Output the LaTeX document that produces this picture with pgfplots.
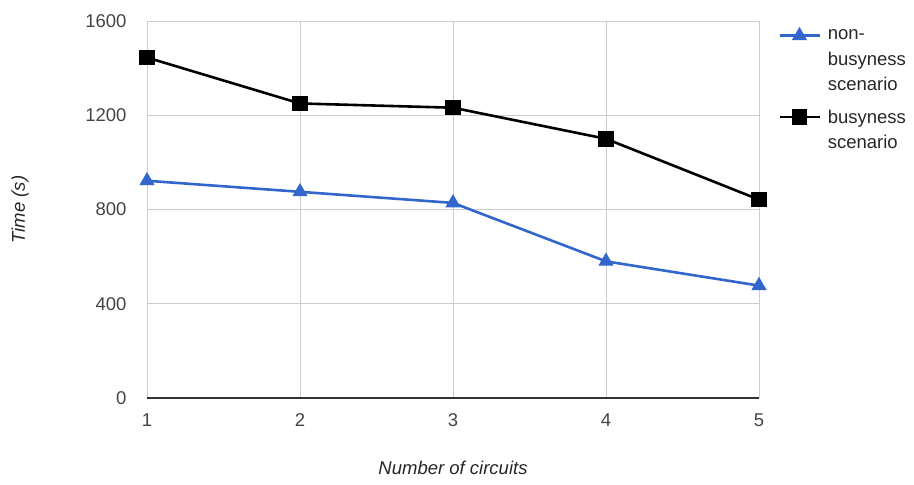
\documentclass[border=0pt]{standalone}
\usepackage{fontspec}
\setmainfont{Liberation Sans}
\usepackage{pgfplots}
\pgfplotsset{compat=1.18}
\definecolor{seriesblue}{HTML}{3366CC}
\definecolor{gridgray}{HTML}{CCCCCC}
\definecolor{labelgray}{HTML}{444444}
\definecolor{axisgray}{HTML}{333333}

\begin{document}
\begin{tikzpicture}[font=\fontsize{18.5}{25.5}\selectfont]
\begin{axis}[
  scale only axis, width=612pt, height=377pt,
  xmin=1, xmax=5, ymin=0, ymax=1600,
  xtick={1,2,3,4,5}, ytick={0,400,800,1200,1600},
  grid=major, major grid style={gridgray, line width=0.8pt},
  axis line style={draw=none},
  major tick length=0pt,
  /pgf/number format/assume math mode=true,
  /pgf/number format/1000 sep={},
  tick label style={text=labelgray},
  yticklabel style={xshift=-17pt},
  xticklabel style={yshift=-12pt},
  xlabel={\itshape Number of circuits},
  ylabel={\itshape Time (s)},
  xlabel style={at={(axis description cs:0.5,-0.1857)}, anchor=center, text=black!85},
  ylabel style={at={(axis description cs:-0.2075,0.5)}, anchor=center, text=black!85},
  legend style={at={(axis description cs:1,1)}, anchor=north west,
    xshift=19pt, yshift=-5pt,
    draw=none, fill=none, inner sep=0pt, row sep=11.5pt, column sep=5pt,
    cells={align=left}, text=black!85},
  legend cell align=left,
  clip=false,
]
\draw[axisgray, line width=1.5pt] (rel axis cs:0,0) -- (rel axis cs:1,0);

% scenario without busyness (three-line legend text: sample sits on the first line)
\addplot[seriesblue, line width=2.6pt, mark=triangle*, mark size=7.8pt,
  mark options={solid, fill=seriesblue, line width=1pt},
  legend image code/.code={
    \path[draw=none, fill=none] (0pt,-35pt) rectangle (40pt,35pt);
    \draw[mark repeat=2,mark phase=2] plot coordinates {(0pt,25.5pt)(20pt,25.5pt)(40pt,25.5pt)};}]
  coordinates {(1,922) (2,875) (3,828) (4,580) (5,477)};
\addlegendentry{non-\\busyness\\scenario}

% scenario with busyness (two-line legend text)
\addplot[black, line width=2.6pt, mark=square*, mark size=7.2pt,
  mark options={solid, fill=black, line width=1pt},
  legend image code/.code={
    \path[draw=none, fill=none] (0pt,-22pt) rectangle (40pt,22pt);
    \draw[mark repeat=2,mark phase=2] plot coordinates {(0pt,12.75pt)(20pt,12.75pt)(40pt,12.75pt)};}]
  coordinates {(1,1445) (2,1250) (3,1232) (4,1100) (5,842)};
\addlegendentry{busyness\\scenario}
\end{axis}
\pgfresetboundingbox
\useasboundingbox (-147pt,-87pt) rectangle (767pt,398pt);
\end{tikzpicture}
\end{document}
